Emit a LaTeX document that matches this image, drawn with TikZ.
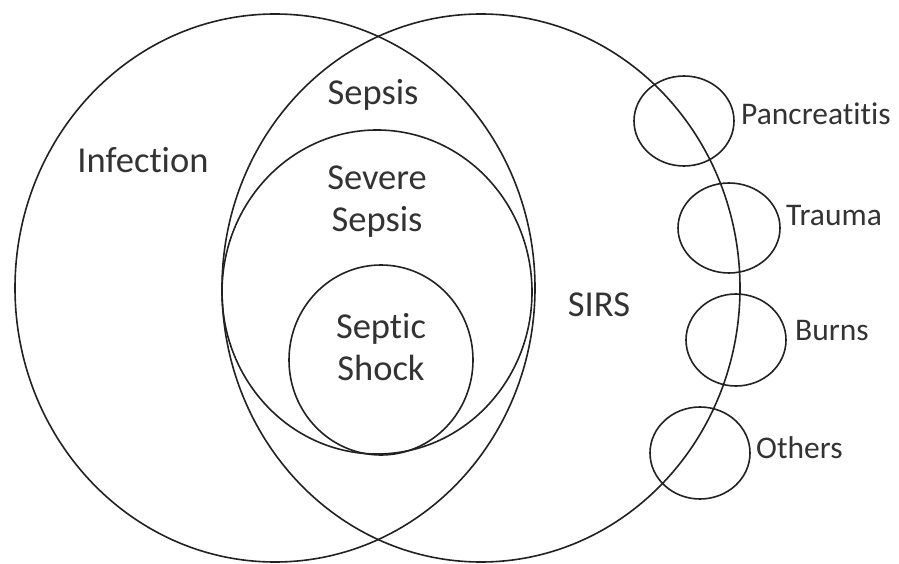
\documentclass[tikz,border=0pt]{standalone}
\usepackage{fontspec}
\setmainfont{Carlito}[Ligatures={NoCommon}]
\definecolor{ink}{HTML}{222222}
\definecolor{txt}{HTML}{333333}
\begin{document}
\begin{tikzpicture}[x=1pt,y=-1pt,
  ring/.style={draw=ink,line width=1.6pt},
  big/.style={text=txt,font=\fontsize{36.5}{42}\selectfont,align=center,inner sep=0pt},
  small/.style={text=txt,font=\fontsize{31.5}{36}\selectfont,anchor=west,inner sep=0pt}]
\useasboundingbox[fill=white] (0,0) rectangle (899,564);
\draw[ring] (275,288) ellipse [x radius=260, y radius=274];
\draw[ring] (481,288) ellipse [x radius=259, y radius=274];
\draw[ring] (377,292) ellipse [x radius=155, y radius=162];
\draw[ring] (381,360) ellipse [x radius=92, y radius=95];
\draw[ring] (684,121) ellipse [x radius=50, y radius=45];
\draw[ring] (729,228) ellipse [x radius=51, y radius=45];
\draw[ring] (736,340) ellipse [x radius=50, y radius=46];
\draw[ring] (700,453) ellipse [x radius=50, y radius=46];
\node[big] (inf) at (143,160) {Infection};
\node[big] (sep) at (373,95) {Sepsis};
\node[big] (sev) at (377,202) {Severe\\Sepsis};
\node[big] (sho) at (381,347) {Septic\\Shock};
\node[big] (sirs) at (599,305) {SIRS};
\node[small] (pan) at (741,114) {Pancreatitis};
\node[small] (tra) at (786,216) {Trauma};
\node[small] (bur) at (795,331) {Burns};
\node[small] (oth) at (756,448) {Others};
\end{tikzpicture}
\end{document}
